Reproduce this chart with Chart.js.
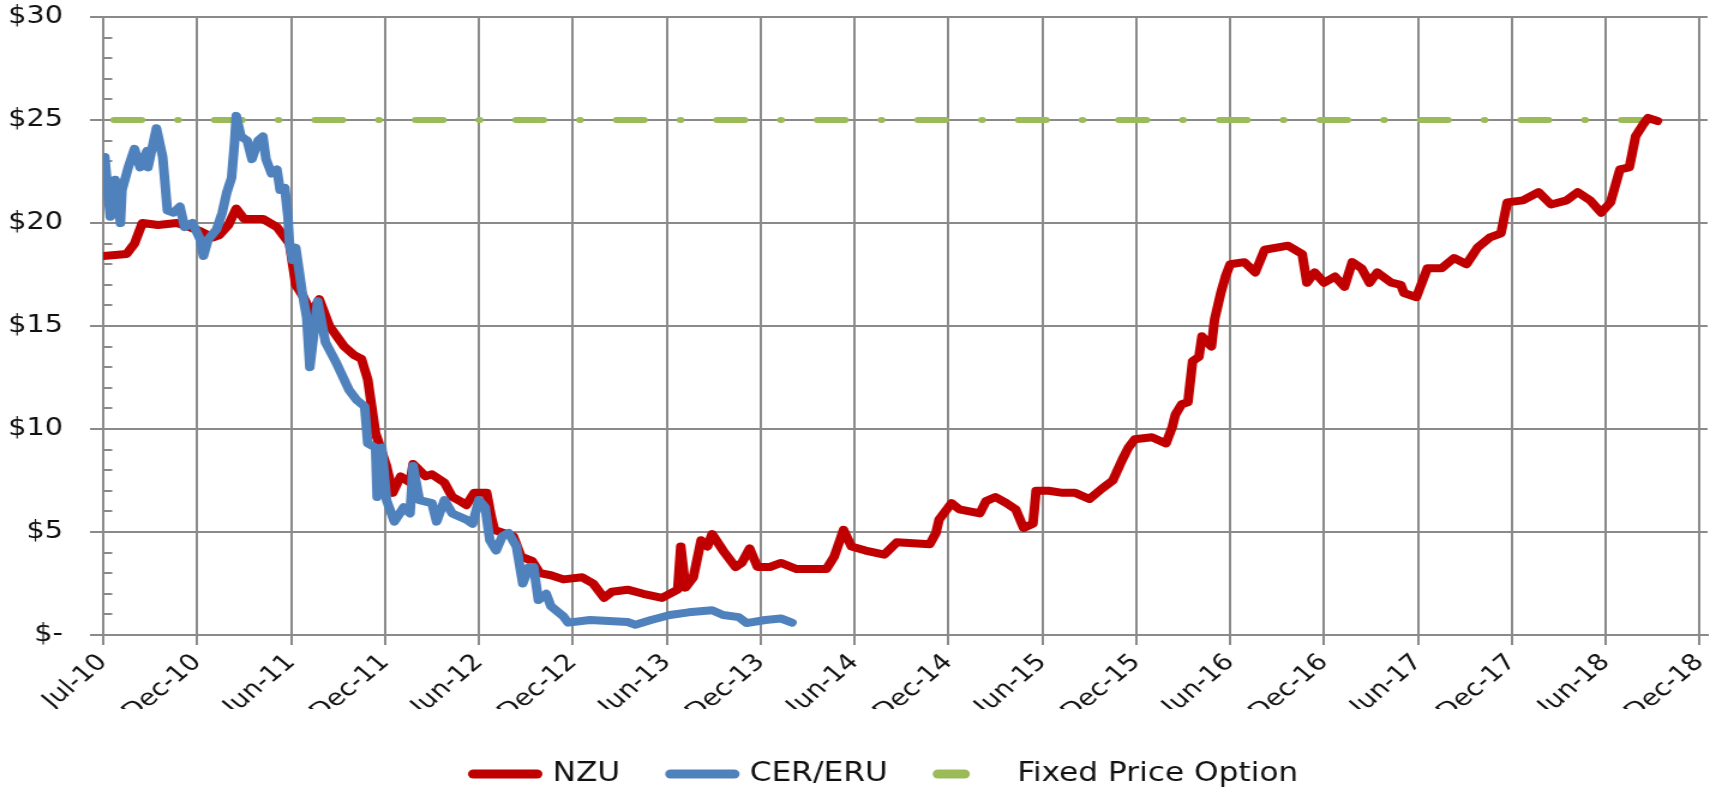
<!DOCTYPE html>
<html>
<head>
<meta charset="utf-8">
<script src="https://cdn.jsdelivr.net/npm/chart.js@4"></script>
<style>
  body { margin: 0; overflow: hidden; background: #fff; }
  /* the reference is drawn a bit wide, so the chart is stretched sideways */
  #wrap { position: absolute; left: 0; top: 0; width: 1440px; height: 787px; transform: scaleX(1.2); transform-origin: 0 0; }
</style>
</head>
<body>
<div id="wrap"><canvas id="chart"></canvas></div>
<script>
// x values are months after Jul-10
var tickLabels = ['Jul-10','Dec-10','Jun-11','Dec-11','Jun-12','Dec-12','Jun-13','Dec-13','Jun-14',
                  'Dec-14','Jun-15','Dec-15','Jun-16','Dec-16','Jun-17','Dec-17','Jun-18','Dec-18'];

var nzuMonths = [0, 1.5, 2.0, 2.5, 3.5, 4.7, 5.5, 6.2, 7.0, 7.4,
                 8.0, 8.5, 9.0, 10.2, 11.1, 11.9, 12.3, 12.8, 13.3, 13.8,
                 14.45, 15.4, 16.0, 16.5, 16.9, 17.4, 18.1, 18.5, 19.0, 19.6,
                 19.8, 20.6, 21.0, 21.8, 22.3, 22.8, 23.2, 23.7, 24.5, 24.8,
                 25.0, 26.2, 26.7, 27.4, 27.9, 28.6, 29.4, 30.6, 31.3, 32.0,
                 32.5, 33.5, 34.5, 35.7, 36.7, 36.9, 37.2, 37.7, 38.2, 38.6,
                 38.9, 39.6, 40.4, 40.8, 41.3, 41.8, 42.6, 43.3, 44.3, 46.2,
                 46.7, 47.3, 47.8, 48.7, 49.9, 50.7, 52.8, 53.2, 53.4, 54.2,
                 54.7, 56.0, 56.4, 57.0, 57.7, 58.3, 58.8, 59.4, 59.6, 60.4,
                 61.3, 62.1, 63.0, 63.8, 64.5, 65.1, 65.5, 65.9, 67.0, 67.9,
                 68.3, 68.5, 68.9, 69.3, 69.6, 70.0, 70.2, 70.8, 71.0, 71.4,
                 71.7, 72.0, 72.9, 73.6, 74.2, 75.7, 76.6, 76.9, 77.4, 78.0,
                 78.7, 79.3, 79.8, 80.4, 80.9, 81.4, 82.3, 82.9, 83.1, 83.9,
                 84.6, 85.5, 86.3, 87.1, 87.8, 88.6, 89.3, 89.7, 90.7, 91.7,
                 92.5, 93.5, 94.2, 95.0, 95.7, 96.3, 96.9, 97.5, 97.9, 98.4,
                 98.7, 99.3];
var nzuPrices = [18.4, 18.5, 19.0, 20.0, 19.9, 20.0, 19.8, 19.6, 19.3, 19.4,
                 19.9, 20.7, 20.2, 20.2, 19.8, 19.0, 17.0, 16.4, 15.6, 16.3,
                 15.0, 14.0, 13.6, 13.4, 12.4, 9.8, 8.2, 6.9, 7.7, 7.4,
                 8.3, 7.7, 7.8, 7.4, 6.7, 6.5, 6.3, 6.9, 6.9, 5.7,
                 5.1, 4.8, 3.8, 3.6, 3.0, 2.9, 2.7, 2.8, 2.5, 1.8,
                 2.1, 2.2, 2.0, 1.8, 2.2, 4.3, 2.3, 2.8, 4.6, 4.3,
                 4.9, 4.1, 3.3, 3.5, 4.2, 3.3, 3.3, 3.5, 3.2, 3.2,
                 3.8, 5.1, 4.3, 4.1, 3.9, 4.5, 4.4, 4.95, 5.6, 6.4,
                 6.1, 5.9, 6.5, 6.7, 6.4, 6.1, 5.2, 5.4, 7.0, 7.0,
                 6.9, 6.9, 6.6, 7.1, 7.5, 8.5, 9.1, 9.5, 9.6, 9.3,
                 10.1, 10.7, 11.2, 11.3, 13.3, 13.5, 14.5, 14.0, 15.3, 16.6,
                 17.4, 18.0, 18.1, 17.6, 18.7, 18.9, 18.5, 17.1, 17.6, 17.1,
                 17.4, 16.9, 18.1, 17.8, 17.1, 17.6, 17.1, 17.0, 16.6, 16.4,
                 17.8, 17.8, 18.3, 18.0, 18.8, 19.3, 19.5, 21.0, 21.1, 21.5,
                 20.9, 21.1, 21.5, 21.1, 20.5, 21.0, 22.6, 22.7, 24.2, 24.8,
                 25.1, 24.95];

var cerMonths = [0.1, 0.45, 0.76, 1.1, 1.2, 1.6, 2.0, 2.35, 2.8, 2.86,
                 3.4, 3.8, 4.1, 4.5, 4.9, 5.2, 5.7, 6.2, 6.4, 6.7,
                 7.25, 7.6, 7.9, 8.2, 8.4, 8.5, 8.8, 9.2, 9.5, 9.9,
                 10.2, 10.4, 10.75, 11.1, 11.3, 11.6, 11.8, 11.9, 12.1, 12.3,
                 12.7, 13.0, 13.2, 13.7, 14.2, 14.9, 15.7, 16.2, 16.7, 16.9,
                 17.4, 17.5, 17.8, 18.1, 18.6, 19.2, 19.6, 19.8, 20.2, 21.0,
                 21.3, 21.8, 22.3, 23.2, 23.6, 24.0, 24.4, 24.7, 25.1, 25.5,
                 25.9, 26.4, 26.8, 27.2, 27.5, 27.8, 28.3, 28.6, 29.4, 29.7,
                 31.1, 33.5, 34.0, 35.0, 36.2, 37.4, 38.9, 39.6, 40.6, 41.1,
                 42.3, 43.3, 44.0];
var cerPrices = [23.2, 20.3, 22.1, 20.0, 21.6, 22.7, 23.6, 22.7, 23.5, 22.7,
                 24.6, 23.2, 20.6, 20.5, 20.8, 19.8, 20.0, 19.2, 18.4, 19.2,
                 19.7, 20.5, 21.5, 22.2, 24.0, 25.2, 24.2, 24.0, 23.1, 24.0,
                 24.2, 23.1, 22.4, 22.6, 21.6, 21.7, 20.3, 19.0, 18.2, 18.8,
                 16.7, 15.4, 13.0, 16.2, 14.2, 13.2, 11.9, 11.4, 11.1, 9.3,
                 9.1, 6.7, 9.1, 6.55, 5.5, 6.2, 5.9, 8.2, 6.55, 6.4,
                 5.5, 6.55, 5.9, 5.6, 5.4, 6.55, 6.2, 4.6, 4.1, 4.8,
                 4.95, 4.3, 2.5, 3.3, 3.3, 1.7, 2.0, 1.4, 0.9, 0.6,
                 0.73, 0.63, 0.5, 0.73, 0.97, 1.1, 1.2, 0.97, 0.87, 0.58,
                 0.73, 0.8, 0.6];

var fixedMonths = [0.68, 101];
var fixedPrices = [25, 25];

var gridGrey = '#8a8a8a';
var textFont = 'DejaVu Sans';
var legendX = 394.5;   // where the first legend line starts
var legendY = 774;     // middle of the legend text

function pairs(xs, ys) {
    return xs.map(function(x, i) { return {x: x, y: ys[i]}; });
}

// move the legend to where the reference has it
var legendSpot = {
    id: 'legendSpot',
    afterLayout: function(chart) {
        var lg = chart.legend;
        var pad = lg.options.labels.padding;
        var startX = (lg.left + pad + lg.right - lg.lineWidths[0]) / 2;
        var dx = legendX - startX;
        lg.left += dx; lg.right += dx;
        var dy = legendY - (lg.top + pad + 13);
        lg.top += dy; lg.bottom += dy;
    }
};

var chart = new Chart(document.getElementById('chart').getContext('2d'), {
    type: 'line',
    data: {
        datasets: [
            {
                label: 'NZU',
                data: pairs(nzuMonths, nzuPrices),
                borderColor: '#C00000',
                backgroundColor: '#C00000',
                borderWidth: 8,
                borderCapStyle: 'round',
                borderJoinStyle: 'round',
                pointRadius: 0,
                yAxisID: 'y',
                order: 1
            },
            {
                label: 'CER/ERU',
                data: pairs(cerMonths, cerPrices),
                borderColor: '#4F81BD',
                backgroundColor: '#4F81BD',
                borderWidth: 8,
                borderCapStyle: 'round',
                borderJoinStyle: 'round',
                pointRadius: 0,
                yAxisID: 'y',
                order: 0
            },
            {
                label: 'Fixed Price Option',
                data: pairs(fixedMonths, fixedPrices),
                borderColor: '#9BBB59',
                backgroundColor: '#9BBB59',
                borderWidth: 6,
                borderCapStyle: 'round',
                borderDash: [23.2, 30, 0.5, 30.05],
                pointRadius: 0,
                yAxisID: 'y',
                order: 2
            }
        ]
    },
    options: {
        responsive: true,
        maintainAspectRatio: false,
        animation: false,
        layout: { autoPadding: false, padding: { top: 17, right: 11, left: 0, bottom: 0 } },
        plugins: {
            tooltip: { enabled: false },
            legend: {
                position: 'bottom',
                labels: {
                    usePointStyle: true,
                    pointStyleWidth: 53,
                    padding: 42,
                    color: '#111',
                    font: { family: textFont, size: 26 },
                    sort: function(a, b) { return a.datasetIndex - b.datasetIndex; },
                    generateLabels: function(chart) {
                        return chart.data.datasets.map(function(ds, i) {
                            return {
                                text: ds.label,
                                datasetIndex: i,
                                fillStyle: ds.borderColor,
                                strokeStyle: ds.borderColor,
                                lineWidth: 9,
                                lineCap: 'round',
                                lineDash: i == 2 ? [22, 100] : [],
                                lineDashOffset: 0,
                                pointStyle: 'line',
                                fontColor: '#111',
                                hidden: false
                            };
                        });
                    }
                }
            }
        },
        scales: {
            x: {
                type: 'linear',
                min: 0,
                max: 102.5,
                afterFit: function(s) { s.height = s.chart.height - 635 - s.chart.legend.height; },
                grid: { color: gridGrey, lineWidth: 2, tickLength: 10, tickColor: gridGrey },
                border: { color: gridGrey, width: 2 },
                ticks: {
                    stepSize: 6,
                    includeBounds: false,
                    autoSkip: false,
                    minRotation: 45,
                    maxRotation: 45,
                    padding: 4,
                    color: '#111',
                    font: { family: textFont, size: 23 },
                    callback: function(v) { return tickLabels[Math.round(v / 6)]; }
                }
            },
            y: {
                min: 0,
                max: 30,
                weight: 1,
                afterFit: function(s) {
                    s.width = 86;
                    // the big tick padding must not push the plot down
                    s.paddingTop = 0;
                    s.paddingBottom = 0;
                },
                grid: { color: gridGrey, lineWidth: 2, tickLength: 11, tickColor: gridGrey },
                border: { color: gridGrey, width: 2 },
                ticks: {
                    stepSize: 5,
                    padding: 22.5,
                    color: '#111',
                    font: { family: textFont, size: 24 },
                    callback: function(v) { return v == 0 ? '$-' : '$' + v; }
                }
            },
            // little inside ticks at every dollar
            yMinor: {
                position: 'left',
                min: 0,
                max: 30,
                weight: 0,
                afterFit: function(s) { s.width = 0; },
                grid: { drawOnChartArea: false, tickLength: -7.5, tickColor: gridGrey, lineWidth: 2 },
                border: { display: false },
                ticks: { stepSize: 1, display: false }
            }
        }
    },
    plugins: [legendSpot]
});
</script>
</body>
</html>
